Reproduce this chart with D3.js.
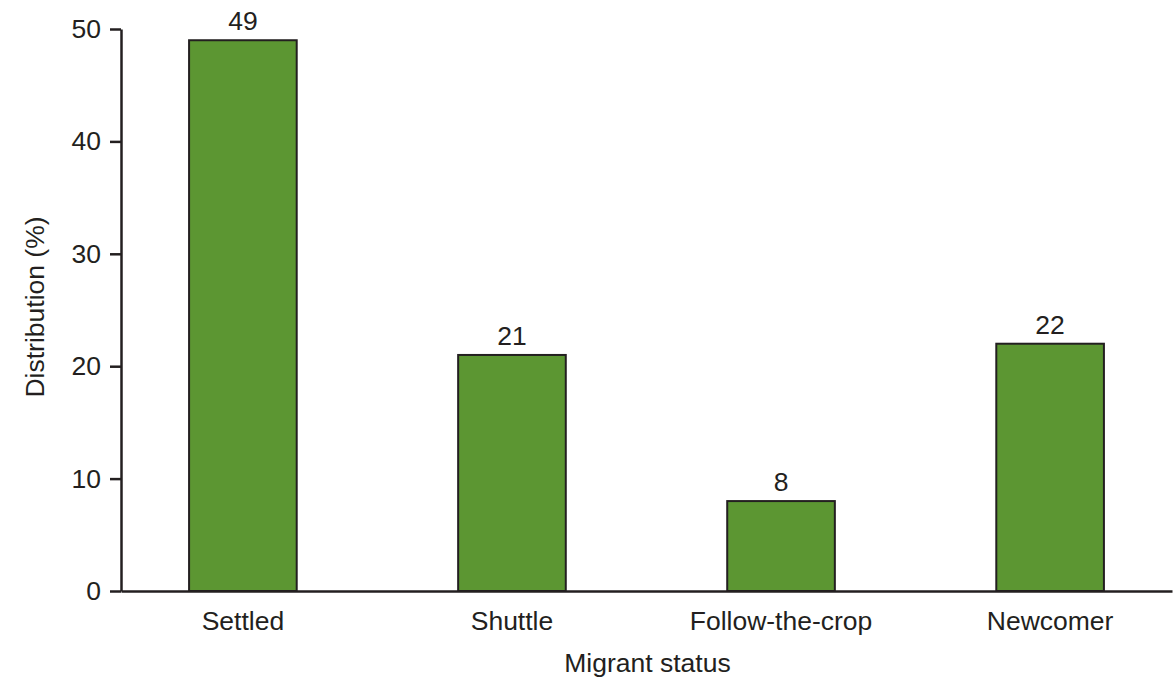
<!DOCTYPE html>
<html>
<head>
<meta charset="utf-8">
<script src="https://cdn.jsdelivr.net/npm/d3@7"></script>
<style>
html,body{margin:0;padding:0;background:#fff;}
svg{display:block;font-family:"Liberation Sans",Arial,Helvetica,sans-serif;}
</style>
</head>
<body>
<svg id="chart" width="1174" height="681"></svg>
<script>
const categories = ["Settled", "Shuttle", "Follow-the-crop", "Newcomer"];
const values = [49, 21, 8, 22];
const yTicks = [0, 10, 20, 30, 40, 50];
const xTitle = "Migrant status";
const yTitle = "Distribution (%)";

(function () {
const svg = d3.select("#chart");
const mLeft = 121, mRight = 1172, mTop = 29, mBottom = 591;
const ink = "#231f20";
const fill = "#5c9632";
const fs = 26.5;

const x = d3.scaleBand().domain(categories).range([mLeft, mRight]).paddingInner(0.6).paddingOuter(0.253);
const y = d3.scaleLinear().domain([0, 50]).range([mBottom, mTop]);

// bars
svg.append("g").selectAll("rect").data(categories).join("rect")
  .attr("x", d => x(d))
  .attr("y", (d, i) => y(values[i]))
  .attr("width", x.bandwidth())
  .attr("height", (d, i) => y(0) - y(values[i]))
  .attr("fill", fill)
  .attr("stroke", ink)
  .attr("stroke-width", 2);

// value labels
svg.append("g").selectAll("text").data(categories).join("text")
  .attr("x", d => x(d) + x.bandwidth() / 2)
  .attr("y", (d, i) => y(values[i]) - 10)
  .attr("text-anchor", "middle")
  .attr("font-size", fs)
  .attr("fill", ink)
  .text((d, i) => values[i]);

// y axis
const yAxis = svg.append("g").attr("transform", `translate(${mLeft},0)`)
  .call(d3.axisLeft(y).tickValues(yTicks).tickSize(11).tickPadding(9).tickSizeOuter(0));
yAxis.attr("font-family", null);
yAxis.select(".domain").attr("stroke", ink).attr("stroke-width", 2.5);
yAxis.selectAll(".tick line").attr("stroke", ink).attr("stroke-width", 2.5);
yAxis.selectAll(".tick text").attr("font-size", fs).attr("fill", ink);

// x axis
const xAxis = svg.append("g").attr("transform", `translate(0,${mBottom})`)
  .call(d3.axisBottom(x).tickSize(0).tickPadding(20).tickSizeOuter(0));
xAxis.attr("font-family", null);
xAxis.select(".domain").attr("stroke", ink).attr("stroke-width", 2.5);
xAxis.selectAll(".tick text").attr("font-size", fs).attr("fill", ink);

// titles
svg.append("text")
  .attr("x", (mLeft + mRight) / 2 + 1)
  .attr("y", 672)
  .attr("text-anchor", "middle")
  .attr("font-size", fs)
  .attr("fill", ink)
  .text(xTitle);

svg.append("text")
  .attr("transform", `translate(44,${(mTop + mBottom) / 2 - 3}) rotate(-90)`)
  .attr("text-anchor", "middle")
  .attr("font-size", fs)
  .attr("fill", ink)
  .text(yTitle);
})();
</script>
</body>
</html>
